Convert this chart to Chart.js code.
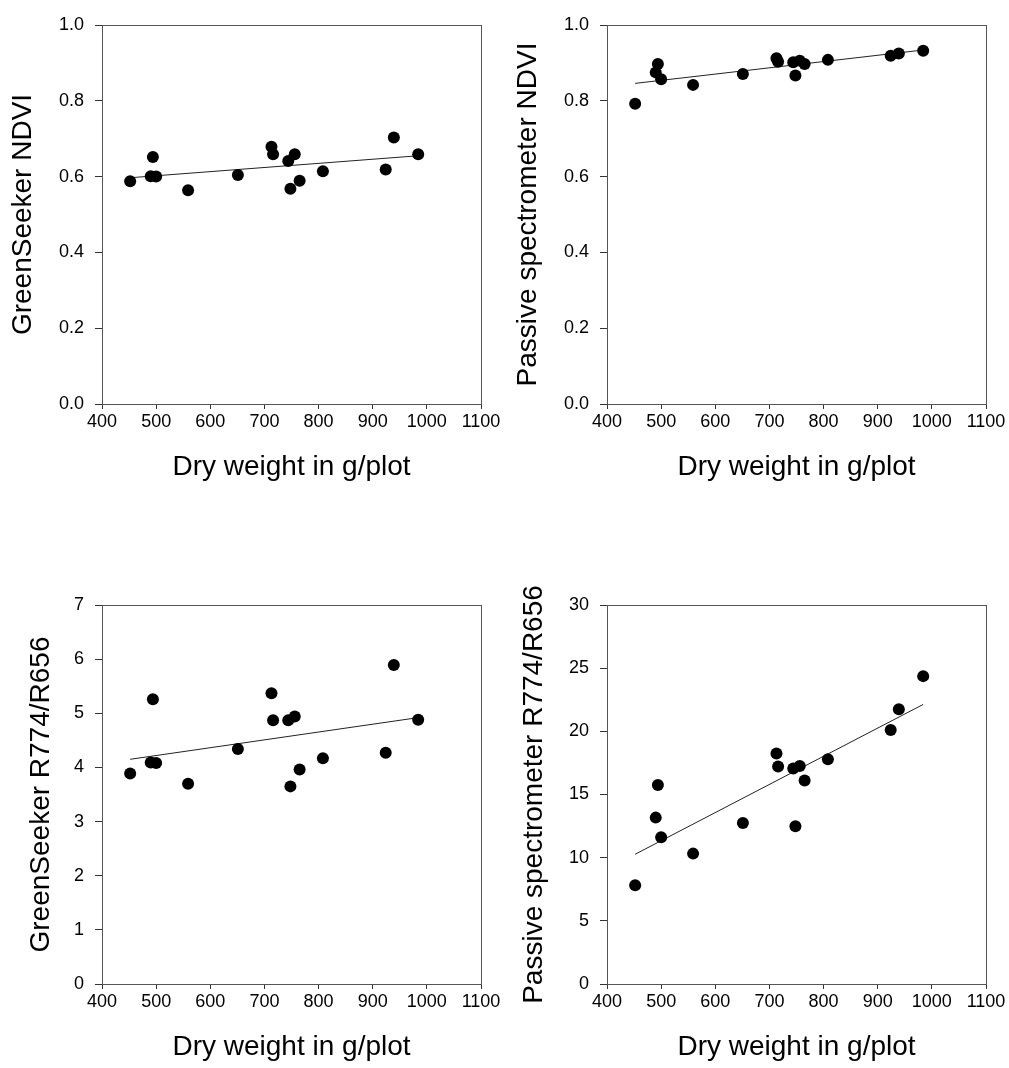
<!DOCTYPE html>
<html>
<head>
<meta charset="utf-8">
<script src="https://cdn.jsdelivr.net/npm/chart.js@4"></script>
<style>
  html, body { margin: 0; padding: 0; background: #fff; overflow: hidden; }
  body { width: 1009px; height: 1068px; position: relative; }
  canvas { position: absolute; }
</style>
</head>
<body>
<canvas id="g1" width="504" height="488" style="left:0;top:0"></canvas>
<canvas id="g2" width="504" height="488" style="left:505px;top:0"></canvas>
<canvas id="g3" width="504" height="488" style="left:0;top:580px"></canvas>
<canvas id="g4" width="504" height="488" style="left:505px;top:580px"></canvas>
<script>
// dry weight (g/plot) of each plot
const pesoSeco = [452, 490, 494, 500, 559, 651, 713, 716, 744, 748, 756, 765, 808, 924, 939, 984];

// sensor readings, same order as pesoSeco
const gsNdvi = [0.588, 0.601, 0.652, 0.600, 0.564, 0.604, 0.679, 0.659, 0.641, 0.568, 0.659, 0.589, 0.614, 0.619, 0.703, 0.659];
const psNdvi = [0.792, 0.875, 0.897, 0.857, 0.842, 0.871, 0.912, 0.903, 0.902, 0.867, 0.906, 0.897, 0.908, 0.919, 0.925, 0.932];
const gsRazao = [3.89, 4.09, 5.26, 4.08, 3.70, 4.34, 5.37, 4.87, 4.87, 3.65, 4.94, 3.96, 4.17, 4.27, 5.89, 4.88];
const psRazao = [7.82, 13.17, 15.75, 11.61, 10.32, 12.74, 18.24, 17.21, 17.05, 12.48, 17.26, 16.10, 17.79, 20.10, 21.74, 24.37];

// fitted lines: [x, y] at both ends
const retaGsNdvi = [[452, 0.597], [984, 0.655]];
const retaPsNdvi = [[452, 0.846], [984, 0.934]];
const retaGsRazao = [[452, 4.15], [984, 4.92]];
const retaPsRazao = [[452, 10.27], [984, 22.13]];

const xTicks = [400, 500, 600, 700, 800, 900, 1000, 1100];
const tituloX = "Dry weight in g/plot";

const fonte = "'Liberation Sans', Arial, sans-serif";

const caixa = {
  id: "caixa",
  afterDatasetsDraw(chart) {
    const a = chart.chartArea;
    const ctx = chart.ctx;
    ctx.save();
    ctx.strokeStyle = "#555";
    ctx.lineWidth = 1;
    ctx.strokeRect(Math.round(a.left) + 0.5, Math.round(a.top) + 0.5, Math.round(a.right - a.left), Math.round(a.bottom - a.top));
    ctx.restore();
  }
};

function criarGrafico(id, ys, reta, yMax, passo, decimais, tituloY, padTitulo) {
  const pontos = pesoSeco.map((x, i) => ({ x: x, y: ys[i] }));
  new Chart(document.getElementById(id), {
    type: "scatter",
    data: {
      datasets: [
        {
          data: pontos,
          backgroundColor: "#000",
          borderColor: "#000",
          borderWidth: 0,
          pointRadius: 6
        },
        {
          type: "line",
          data: reta.map(p => ({ x: p[0], y: p[1] })),
          borderColor: "#222",
          borderWidth: 1,
          pointRadius: 0,
          fill: false
        }
      ]
    },
    options: {
      responsive: false,
      animation: false,
      devicePixelRatio: 1,
      layout: { padding: { top: 25, right: 23, bottom: 0, left: 0 } },
      plugins: { legend: { display: false }, tooltip: { enabled: false } },
      scales: {
        x: {
          type: "linear",
          min: xTicks[0],
          max: xTicks[xTicks.length - 1],
          afterBuildTicks: s => { s.ticks = xTicks.map(v => ({ value: v })); },
          afterFit: s => { s.height = 84; },
          border: { display: true, color: "#333", width: 1 },
          grid: { drawOnChartArea: false, drawTicks: true, tickLength: 5, color: "#333" },
          ticks: { color: "#000", font: { family: fonte, size: 18 }, padding: 2, maxRotation: 0, callback: v => String(v) },
          title: { display: true, text: tituloX, color: "#000", font: { family: fonte, size: 28 }, padding: { top: 0, bottom: 4 } }
        },
        y: {
          type: "linear",
          min: 0,
          max: yMax,
          ticks: {
            stepSize: passo,
            color: "#000",
            font: { family: fonte, size: 18 },
            padding: 11,
            callback: v => Number(v).toFixed(decimais)
          },
          afterFit: s => { s.width = 102; },
          border: { display: true, color: "#333", width: 1 },
          grid: { drawOnChartArea: false, drawTicks: true, tickLength: 7, color: "#333" },
          title: { display: true, text: tituloY, color: "#000", font: { family: fonte, size: 28 }, padding: { top: padTitulo, bottom: 0 } }
        }
      }
    },
    plugins: [caixa]
  });
}

criarGrafico("g1", gsNdvi, retaGsNdvi, 1, 0.2, 1, "GreenSeeker NDVI", 6);
criarGrafico("g2", psNdvi, retaPsNdvi, 1, 0.2, 1, "Passive spectrometer NDVI", 6);
criarGrafico("g3", gsRazao, retaGsRazao, 7, 1, 0, "GreenSeeker R774/R656", 24);
criarGrafico("g4", psRazao, retaPsRazao, 30, 5, 0, "Passive spectrometer R774/R656", 12);
</script>
</body>
</html>
